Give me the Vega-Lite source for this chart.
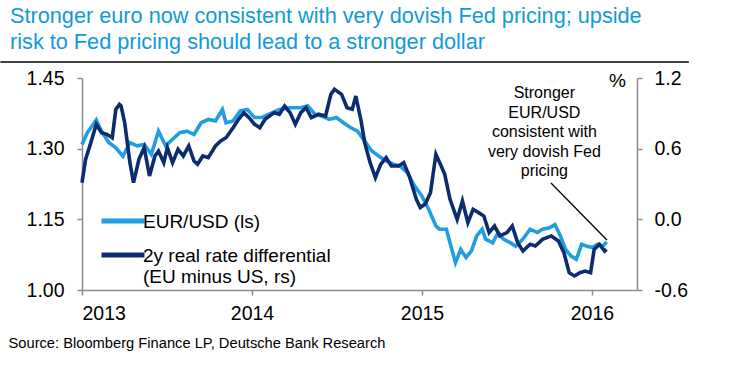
{
  "$schema": "https://vega.github.io/schema/vega-lite/v6.json",
  "width": 555,
  "height": 212,
  "autosize": {"type": "none"},
  "padding": {"left": 82, "top": 78, "right": 98, "bottom": 84},
  "background": "white",
  "config": {
    "view": {"stroke": null},
    "font": "Liberation Sans",
    "axis": {
      "grid": false,
      "domainColor": "#8c8c8c",
      "tickColor": "#8c8c8c",
      "domainWidth": 1.5,
      "tickWidth": 1.5,
      "tickSize": 5,
      "labelColor": "#000000",
      "labelFont": "Liberation Sans",
      "labelFontSize": 19.5
    }
  },
  "title": {
    "text": ["Stronger euro now consistent with very dovish Fed pricing; upside", "risk to Fed pricing should lead to a stronger dollar"],
    "anchor": "start",
    "frame": "group",
    "dx": -72,
    "offset": 8,
    "color": "#0f9bd7",
    "font": "Liberation Sans",
    "fontSize": 21.7,
    "fontWeight": "normal",
    "lineHeight": 26
  },
  "datasets": {
    "eur": [
      {"t": 2013.000, "v": 1.309}, {"t": 2013.031, "v": 1.334}, {"t": 2013.073, "v": 1.355}, {"t": 2013.084, "v": 1.361},
      {"t": 2013.115, "v": 1.337}, {"t": 2013.157, "v": 1.313}, {"t": 2013.199, "v": 1.302}, {"t": 2013.241, "v": 1.284},
      {"t": 2013.282, "v": 1.313}, {"t": 2013.324, "v": 1.306}, {"t": 2013.366, "v": 1.309}, {"t": 2013.408, "v": 1.288},
      {"t": 2013.450, "v": 1.337}, {"t": 2013.492, "v": 1.306}, {"t": 2013.533, "v": 1.320}, {"t": 2013.575, "v": 1.334},
      {"t": 2013.617, "v": 1.337}, {"t": 2013.659, "v": 1.330}, {"t": 2013.701, "v": 1.355}, {"t": 2013.743, "v": 1.362},
      {"t": 2013.785, "v": 1.359}, {"t": 2013.826, "v": 1.383}, {"t": 2013.847, "v": 1.355}, {"t": 2013.889, "v": 1.359},
      {"t": 2013.931, "v": 1.380}, {"t": 2013.973, "v": 1.383}, {"t": 2014.015, "v": 1.366}, {"t": 2014.056, "v": 1.366},
      {"t": 2014.098, "v": 1.373}, {"t": 2014.161, "v": 1.383}, {"t": 2014.224, "v": 1.387}, {"t": 2014.287, "v": 1.387},
      {"t": 2014.328, "v": 1.391}, {"t": 2014.370, "v": 1.373}, {"t": 2014.412, "v": 1.369}, {"t": 2014.454, "v": 1.362},
      {"t": 2014.496, "v": 1.366}, {"t": 2014.538, "v": 1.355}, {"t": 2014.579, "v": 1.345}, {"t": 2014.621, "v": 1.337},
      {"t": 2014.663, "v": 1.316}, {"t": 2014.705, "v": 1.295}, {"t": 2014.747, "v": 1.284}, {"t": 2014.789, "v": 1.274},
      {"t": 2014.831, "v": 1.267}, {"t": 2014.872, "v": 1.263}, {"t": 2014.914, "v": 1.249}, {"t": 2014.956, "v": 1.221},
      {"t": 2014.998, "v": 1.200}, {"t": 2015.040, "v": 1.171}, {"t": 2015.082, "v": 1.136}, {"t": 2015.103, "v": 1.129},
      {"t": 2015.144, "v": 1.129}, {"t": 2015.165, "v": 1.100}, {"t": 2015.197, "v": 1.058}, {"t": 2015.228, "v": 1.086},
      {"t": 2015.259, "v": 1.069}, {"t": 2015.291, "v": 1.083}, {"t": 2015.322, "v": 1.115}, {"t": 2015.354, "v": 1.129},
      {"t": 2015.374, "v": 1.108}, {"t": 2015.416, "v": 1.100}, {"t": 2015.448, "v": 1.122}, {"t": 2015.479, "v": 1.108},
      {"t": 2015.521, "v": 1.100}, {"t": 2015.552, "v": 1.093}, {"t": 2015.594, "v": 1.108}, {"t": 2015.636, "v": 1.129},
      {"t": 2015.678, "v": 1.122}, {"t": 2015.709, "v": 1.129}, {"t": 2015.751, "v": 1.132}, {"t": 2015.782, "v": 1.139},
      {"t": 2015.814, "v": 1.115}, {"t": 2015.845, "v": 1.086}, {"t": 2015.877, "v": 1.072}, {"t": 2015.908, "v": 1.065},
      {"t": 2015.939, "v": 1.097}, {"t": 2015.971, "v": 1.093}, {"t": 2016.002, "v": 1.090}, {"t": 2016.033, "v": 1.097},
      {"t": 2016.065, "v": 1.093}, {"t": 2016.086, "v": 1.102}
    ],
    "rate": [
      {"t": 2013.000, "v": 0.311}, {"t": 2013.021, "v": 0.509}, {"t": 2013.052, "v": 0.651}, {"t": 2013.084, "v": 0.807},
      {"t": 2013.115, "v": 0.736}, {"t": 2013.146, "v": 0.722}, {"t": 2013.178, "v": 0.693}, {"t": 2013.199, "v": 0.934},
      {"t": 2013.220, "v": 0.976}, {"t": 2013.230, "v": 0.962}, {"t": 2013.251, "v": 0.821}, {"t": 2013.282, "v": 0.481},
      {"t": 2013.303, "v": 0.311}, {"t": 2013.335, "v": 0.509}, {"t": 2013.366, "v": 0.609}, {"t": 2013.397, "v": 0.368},
      {"t": 2013.429, "v": 0.538}, {"t": 2013.450, "v": 0.580}, {"t": 2013.481, "v": 0.481}, {"t": 2013.502, "v": 0.609},
      {"t": 2013.533, "v": 0.481}, {"t": 2013.565, "v": 0.594}, {"t": 2013.596, "v": 0.538}, {"t": 2013.628, "v": 0.623},
      {"t": 2013.659, "v": 0.495}, {"t": 2013.680, "v": 0.467}, {"t": 2013.711, "v": 0.538}, {"t": 2013.743, "v": 0.524},
      {"t": 2013.785, "v": 0.623}, {"t": 2013.816, "v": 0.665}, {"t": 2013.847, "v": 0.693}, {"t": 2013.889, "v": 0.778},
      {"t": 2013.921, "v": 0.849}, {"t": 2013.952, "v": 0.906}, {"t": 2013.983, "v": 0.863}, {"t": 2014.015, "v": 0.807},
      {"t": 2014.046, "v": 0.778}, {"t": 2014.077, "v": 0.849}, {"t": 2014.130, "v": 0.906}, {"t": 2014.161, "v": 0.892},
      {"t": 2014.192, "v": 0.962}, {"t": 2014.224, "v": 0.906}, {"t": 2014.255, "v": 0.807}, {"t": 2014.287, "v": 0.906},
      {"t": 2014.318, "v": 0.948}, {"t": 2014.349, "v": 0.863}, {"t": 2014.391, "v": 0.892}, {"t": 2014.433, "v": 0.877},
      {"t": 2014.464, "v": 1.061}, {"t": 2014.485, "v": 1.104}, {"t": 2014.527, "v": 1.061}, {"t": 2014.559, "v": 0.948},
      {"t": 2014.590, "v": 0.934}, {"t": 2014.611, "v": 1.047}, {"t": 2014.642, "v": 0.835}, {"t": 2014.663, "v": 0.651},
      {"t": 2014.695, "v": 0.481}, {"t": 2014.726, "v": 0.354}, {"t": 2014.757, "v": 0.467}, {"t": 2014.789, "v": 0.524},
      {"t": 2014.820, "v": 0.453}, {"t": 2014.862, "v": 0.453}, {"t": 2014.893, "v": 0.481}, {"t": 2014.925, "v": 0.368},
      {"t": 2014.967, "v": 0.170}, {"t": 2014.990, "v": 0.100}, {"t": 2015.019, "v": 0.130}, {"t": 2015.050, "v": 0.226},
      {"t": 2015.082, "v": 0.552}, {"t": 2015.113, "v": 0.453}, {"t": 2015.134, "v": 0.382}, {"t": 2015.165, "v": 0.170},
      {"t": 2015.186, "v": 0.085}, {"t": 2015.207, "v": 0.000}, {"t": 2015.238, "v": 0.156}, {"t": 2015.270, "v": -0.028},
      {"t": 2015.301, "v": 0.085}, {"t": 2015.333, "v": 0.057}, {"t": 2015.364, "v": 0.028}, {"t": 2015.395, "v": -0.113},
      {"t": 2015.427, "v": -0.057}, {"t": 2015.458, "v": -0.141}, {"t": 2015.500, "v": -0.113}, {"t": 2015.531, "v": -0.057},
      {"t": 2015.563, "v": -0.198}, {"t": 2015.594, "v": -0.269}, {"t": 2015.636, "v": -0.212}, {"t": 2015.667, "v": -0.226},
      {"t": 2015.709, "v": -0.170}, {"t": 2015.761, "v": -0.141}, {"t": 2015.803, "v": -0.184}, {"t": 2015.835, "v": -0.283},
      {"t": 2015.866, "v": -0.453}, {"t": 2015.897, "v": -0.481}, {"t": 2015.929, "v": -0.453}, {"t": 2015.960, "v": -0.439},
      {"t": 2015.992, "v": -0.453}, {"t": 2016.013, "v": -0.255}, {"t": 2016.044, "v": -0.212}, {"t": 2016.075, "v": -0.269},
      {"t": 2016.086, "v": -0.255}
    ]
  },
  "layer": [
    {
      "data": {"name": "eur"},
      "mark": {"type": "line", "strokeWidth": 3.6},
      "encoding": {
        "x": {"field": "t", "type": "quantitative", "scale": {"domain": [2013, 2016.265], "nice": false, "zero": false},
          "axis": {"values": [2013, 2014, 2015, 2016], "format": "d", "labelPadding": 9,
            "title": "Source: Bloomberg Finance LP, Deutsche Bank Research",
            "titleFont": "Liberation Sans", "titleFontSize": 14.7, "titleFontWeight": "normal", "titleColor": "#000000",
            "titleAnchor": "start", "titleAlign": "left", "titleBaseline": "alphabetic", "titleX": -74, "titleY": 57}},
        "y": {"field": "v", "type": "quantitative", "scale": {"domain": [1.0, 1.45], "nice": false, "zero": false},
          "axis": {"values": [1.0, 1.15, 1.3, 1.45], "format": ".2f", "labelPadding": 13, "title": null}},
        "color": {"datum": "EUR/USD (ls)", "type": "nominal",
          "scale": {"domain": ["EUR/USD (ls)", "2y real rate differential"], "range": ["#1f9fdf", "#0c2c6f"]},
          "legend": {
            "title": null, "orient": "none", "legendX": 17, "legendY": 126,
            "symbolType": "M-1,-0.33H1", "symbolStrokeWidth": 5, "symbolSize": 1849,
            "labelFont": "Liberation Sans", "labelFontSize": 19, "labelColor": "#000000", "labelLimit": 400,
            "labelOffset": -4, "rowPadding": 6, "labelBaseline": "alphabetic", "labelLineHeight": 22,
            "labelExpr": "datum.label == '2y real rate differential' ? ['2y real rate differential', '(EU minus US, rs)'] : datum.label"
          }}
      }
    },
    {
      "data": {"name": "rate"},
      "mark": {"type": "line", "strokeWidth": 3.6},
      "encoding": {
        "x": {"field": "t", "type": "quantitative"},
        "y": {"field": "v", "type": "quantitative", "scale": {"domain": [-0.6, 1.2], "nice": false, "zero": false},
          "axis": {"orient": "right", "values": [-0.6, 0, 0.6, 1.2], "format": ".1f", "labelPadding": 12,
            "labelExpr": "replace(datum.label, '\u2212', '-')",
            "title": "%", "titleAngle": 0, "titleX": -20, "titleY": 2, "titleAlign": "center", "titleBaseline": "middle",
            "titleFont": "Liberation Sans", "titleFontSize": 19, "titleFontWeight": "normal", "titleColor": "#000000"}},
        "color": {"datum": "2y real rate differential", "type": "nominal"}
      }
    },
    {
      "data": {"values": [{"t1": 2012.52, "t2": 2016.57, "y": 1.484}]},
      "mark": {"type": "rule", "color": "#000000", "strokeWidth": 1.5},
      "encoding": {
        "x": {"field": "t1", "type": "quantitative"},
        "x2": {"field": "t2"},
        "y": {"field": "y", "type": "quantitative", "scale": {"domain": [1.0, 1.45], "nice": false, "zero": false}, "axis": null}
      }
    },
    {
      "data": {"values": [{"t": 2015.72, "y": 1.435, "label": "Stronger\nEUR/USD\nconsistent with\nvery dovish Fed\npricing"}]},
      "mark": {"type": "text", "align": "center", "baseline": "top", "font": "Liberation Sans", "fontSize": 16, "lineHeight": 19.5, "lineBreak": "\n", "color": "#000000"},
      "encoding": {
        "x": {"field": "t", "type": "quantitative"},
        "y": {"field": "y", "type": "quantitative", "scale": {"domain": [1.0, 1.45], "nice": false, "zero": false}, "axis": null},
        "text": {"field": "label"}
      }
    },
    {
      "data": {"values": [{"t1": 2015.759, "t2": 2016.088, "y1": 1.227, "y2": 1.106}]},
      "mark": {"type": "rule", "color": "#000000", "strokeWidth": 1.3},
      "encoding": {
        "x": {"field": "t1", "type": "quantitative"},
        "x2": {"field": "t2"},
        "y": {"field": "y1", "type": "quantitative", "scale": {"domain": [1.0, 1.45], "nice": false, "zero": false}, "axis": null},
        "y2": {"field": "y2"}
      }
    }
  ],
  "resolve": {"scale": {"y": "independent"}, "axis": {"y": "independent"}}
}
